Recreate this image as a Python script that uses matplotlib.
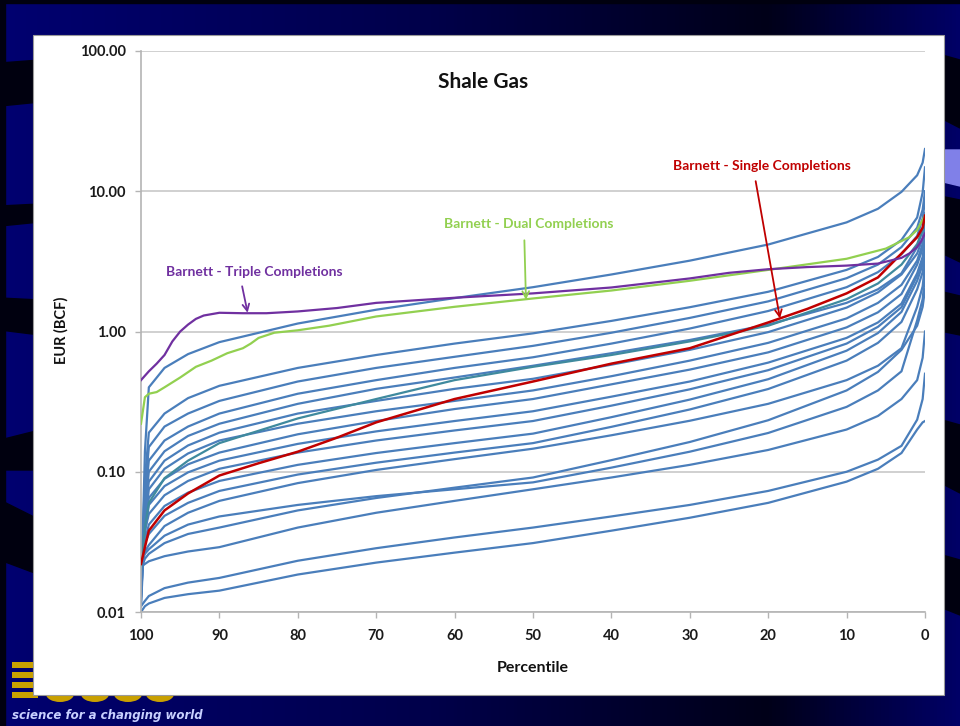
import numpy as np
import matplotlib
matplotlib.use("Agg")
import matplotlib.pyplot as plt
from matplotlib.patches import Rectangle, Polygon, Ellipse
from matplotlib.colors import LinearSegmentedColormap
from matplotlib.ticker import FixedLocator, FuncFormatter, NullLocator

# percentile positions shared by the blue curves
percentile = [100, 99.5, 99, 97, 94, 90, 80, 70, 60, 50, 40, 30, 20, 10, 6, 3, 1, 0.3, 0]

# blue curves, EUR in BCF at each percentile
eur_b01 = [0.012, 0.14, 0.40, 0.55, 0.69, 0.84, 1.14, 1.43, 1.73, 2.07, 2.55, 3.2, 4.17, 6.0, 7.5, 9.9, 13, 16, 20]
eur_b02 = [0.015, 0.089, 0.19, 0.26, 0.335, 0.41, 0.55, 0.68, 0.82, 0.97, 1.19, 1.49, 1.92, 2.75, 3.4, 4.5, 6.5, 9.8, 14.8]
eur_b03 = [0.013, 0.072, 0.15, 0.21, 0.26, 0.32, 0.44, 0.55, 0.66, 0.79, 0.98, 1.25, 1.64, 2.4, 3.0, 4.0, 5.5, 7.4, 10]
eur_b04 = [0.014, 0.063, 0.12, 0.167, 0.21, 0.26, 0.36, 0.45, 0.55, 0.655, 0.82, 1.05, 1.40, 2.07, 2.65, 3.55, 4.8, 6.4, 8.6]
eur_b05 = [0.012, 0.053, 0.10, 0.14, 0.18, 0.22, 0.305, 0.39, 0.47, 0.57, 0.70, 0.87, 1.12, 1.6, 2.0, 2.6, 4.0, 5.3, 7.0]
eur_b06 = [0.016, 0.051, 0.085, 0.12, 0.154, 0.19, 0.26, 0.32, 0.39, 0.46, 0.58, 0.74, 0.99, 1.48, 1.9, 2.55, 3.6, 4.6, 6.0]
eur_b07 = [0.011, 0.042, 0.075, 0.105, 0.135, 0.167, 0.22, 0.27, 0.32, 0.38, 0.48, 0.62, 0.83, 1.24, 1.6, 2.15, 3.2, 4.2, 5.5]
eur_b08 = [0.018, 0.044, 0.065, 0.089, 0.113, 0.137, 0.185, 0.23, 0.28, 0.33, 0.42, 0.535, 0.71, 1.07, 1.37, 1.85, 3.0, 3.9, 5.0]
eur_b09 = [0.013, 0.037, 0.058, 0.079, 0.099, 0.12, 0.158, 0.194, 0.23, 0.27, 0.343, 0.44, 0.60, 0.90, 1.16, 1.58, 2.6, 3.4, 4.5]
eur_b10 = [0.020, 0.038, 0.05, 0.068, 0.086, 0.105, 0.137, 0.167, 0.197, 0.23, 0.296, 0.387, 0.53, 0.82, 1.08, 1.49, 2.5, 3.2, 4.2]
eur_b11 = [0.017, 0.032, 0.042, 0.057, 0.071, 0.086, 0.112, 0.136, 0.16, 0.187, 0.245, 0.327, 0.457, 0.73, 0.975, 1.38, 2.3, 3.0, 4.0]
eur_b12 = [0.022, 0.031, 0.036, 0.0485, 0.06, 0.073, 0.0955, 0.116, 0.137, 0.16, 0.209, 0.278, 0.389, 0.62, 0.83, 1.17, 2.0, 2.65, 3.5]
eur_b13 = [0.021, 0.027, 0.03, 0.041, 0.051, 0.062, 0.083, 0.103, 0.123, 0.146, 0.182, 0.231, 0.305, 0.45, 0.57, 0.76, 1.5, 2.1, 3.0]
eur_b14 = [0.020, 0.024, 0.026, 0.031, 0.036, 0.040, 0.053, 0.065, 0.077, 0.091, 0.121, 0.163, 0.233, 0.38, 0.515, 0.74, 1.1, 1.5, 2.0]
eur_b15 = [0.022, 0.026, 0.028, 0.035, 0.042, 0.048, 0.058, 0.067, 0.075, 0.084, 0.107, 0.139, 0.189, 0.29, 0.38, 0.52, 1.2, 1.7, 2.5]
eur_b16 = [0.021, 0.022, 0.023, 0.025, 0.027, 0.029, 0.040, 0.051, 0.062, 0.075, 0.091, 0.112, 0.143, 0.20, 0.25, 0.33, 0.45, 0.65, 1.0]
eur_b17 = [0.011, 0.012, 0.013, 0.0148, 0.0162, 0.0175, 0.0232, 0.0285, 0.034, 0.040, 0.048, 0.058, 0.073, 0.10, 0.122, 0.153, 0.235, 0.33, 0.5]
eur_b18 = [0.010, 0.011, 0.0115, 0.0126, 0.0134, 0.0142, 0.0185, 0.0225, 0.0265, 0.031, 0.038, 0.047, 0.060, 0.085, 0.105, 0.136, 0.20, 0.225, 0.23]
eur_teal = [0.020, 0.04, 0.06, 0.09, 0.12, 0.16, 0.24, 0.33, 0.45, 0.56, 0.68, 0.85, 1.1, 1.7, 2.2, 3.0, 4.2, 5.3, 6.5]

blue_series = [eur_b01, eur_b02, eur_b03, eur_b04, eur_b05, eur_b06, eur_b07, eur_b08, eur_b09,
               eur_b10, eur_b11, eur_b12, eur_b13, eur_b14, eur_b15, eur_b16, eur_b17, eur_b18]

# Barnett - Single Completions
pct_single = [100, 99.5, 99, 97, 94, 90, 85, 80, 75, 70, 60, 50, 40, 30, 24, 20, 15, 10, 6, 3, 1, 0.3, 0]
eur_single = [0.022, 0.029, 0.038, 0.053, 0.07, 0.094, 0.115, 0.139, 0.175, 0.225, 0.33, 0.44, 0.59,
              0.76, 0.98, 1.16, 1.45, 1.87, 2.43, 3.6, 4.7, 5.5, 6.7]
# Barnett - Dual Completions
pct_dual = [100, 99.5, 99, 98, 97, 95, 93, 91, 89, 87, 86, 85, 83, 80, 76, 70, 60, 50, 40, 30, 20,
            10, 5, 2, 1, 0]
eur_dual = [0.22, 0.34, 0.36, 0.37, 0.40, 0.47, 0.56, 0.62, 0.70, 0.76, 0.82, 0.90, 0.98, 1.02, 1.1,
            1.28, 1.5, 1.72, 1.96, 2.3, 2.75, 3.3, 3.9, 4.7, 5.3, 6.7]
# Barnett - Triple Completions
pct_triple = [100, 99, 98, 97, 96, 95, 94, 93, 92, 90, 87, 84, 80, 75, 70, 60, 50, 40, 30, 25, 20,
              15, 10, 6, 3, 2, 1, 0.5, 0]
eur_triple = [0.45, 0.52, 0.59, 0.68, 0.85, 1.0, 1.12, 1.23, 1.30, 1.36, 1.35, 1.35, 1.39, 1.47, 1.60,
              1.74, 1.87, 2.06, 2.39, 2.62, 2.78, 2.88, 2.95, 3.05, 3.35, 3.6, 4.0, 4.4, 5.0]

y_ticks = [0.01, 0.1, 1, 10, 100]
x_ticks = [100, 90, 80, 70, 60, 50, 40, 30, 20, 10, 0]

BLUE = "#4a7ebb"
RED = "#c00000"
GREEN = "#92d050"
PURPLE = "#7030a0"
FONT = "Lato"

fig = plt.figure(figsize=(9.6, 7.26), dpi=100)

# slide background drawn in pixel coordinates
bg = fig.add_axes([0, 0, 1, 1], zorder=-1)
bg.set_xlim(0, 960)
bg.set_ylim(726, 0)
bg.axis("off")
cmap = LinearSegmentedColormap.from_list(
    "slide", [(0.0, "#000070"), (0.45, "#00004a"), (0.8, "#000018"), (1.0, "#000066")])
bg.imshow(np.linspace(0, 1, 256)[None, :], cmap=cmap, aspect="auto",
          extent=(0, 960, 726, 0), zorder=0)
# dark swooshes at the edges
for pts in [[(0, 63), (40, 60), (40, 102), (0, 106)],
            [(0, 206), (40, 204), (40, 222), (0, 226)],
            [(0, 298), (40, 300), (40, 335), (0, 330)],
            [(0, 440), (40, 430), (40, 470), (0, 470)],
            [(0, 500), (40, 520), (40, 575), (0, 560)],
            [(935, 53), (960, 60), (960, 128), (935, 115)],
            [(935, 195), (960, 200), (960, 262), (935, 250)],
            [(935, 290), (960, 296), (960, 335), (935, 330)],
            [(935, 418), (960, 425), (960, 493), (935, 480)],
            [(935, 553), (960, 560), (960, 615), (935, 605)],
            [(0, 0), (960, 0), (960, 3), (0, 3)],
            [(0, 0), (5, 0), (5, 726), (0, 726)]]:
    bg.add_patch(Polygon(pts, closed=True, color="#00000f", zorder=1))
bg.add_patch(Polygon([(935, 150), (960, 150), (960, 186), (935, 180)], closed=True,
                     color="#8080e8", zorder=1))
# USGS logo peeking out below the panel (gold wave stripes and letter bottoms)
for yy in [662, 672, 682, 692]:
    bg.add_patch(Rectangle((12, yy), 26, 6, facecolor="#c9a000", edgecolor="none", zorder=2))
for cx in [60, 95, 128, 160]:
    bg.add_patch(Ellipse((cx, 694), 28, 16, facecolor="#c9a000", edgecolor="none", zorder=2))
bg.text(12, 716, "science for a changing world", fontsize=8.5, fontstyle="italic",
        fontweight="bold", color="#c8d0ff", family="DejaVu Sans", va="center", zorder=4)
# white chart panel
bg.add_patch(Rectangle((33, 35), 911, 660, facecolor="white", edgecolor="#9a9a9a",
                       lw=0.8, zorder=3))

ax = fig.add_axes([141 / 960, 1 - 612 / 726, 784 / 960, 561 / 726])
ax.set_facecolor("white")

for series in blue_series:
    ax.plot(percentile, series, color=BLUE, lw=1.6, zorder=2)
ax.plot(percentile, eur_teal, color="#3f8a9e", lw=1.6, zorder=2)
ax.plot(pct_single, eur_single, color=RED, lw=1.8, zorder=4)
ax.plot(pct_dual, eur_dual, color=GREEN, lw=1.6, zorder=3)
ax.plot(pct_triple, eur_triple, color=PURPLE, lw=1.6, zorder=5)

ax.set_yscale("log")
ax.set_ylim(0.01, 100)
ax.set_xlim(100, 0)
ax.yaxis.set_major_locator(FixedLocator(y_ticks))
ax.yaxis.set_minor_locator(NullLocator())
ax.yaxis.set_major_formatter(FuncFormatter(lambda v, pos: "%.2f" % v))
ax.xaxis.set_major_locator(FixedLocator(x_ticks))
ax.xaxis.set_major_formatter(FuncFormatter(lambda v, pos: "%d" % round(v)))
ax.grid(axis="y", color="#c8c8c8", lw=1.2, zorder=0)
ax.set_axisbelow(True)

for side in ["top", "right"]:
    ax.spines[side].set_visible(False)
for side in ["left", "bottom"]:
    ax.spines[side].set_color("#b4b4b4")
    ax.spines[side].set_linewidth(1.2)
ax.tick_params(axis="both", direction="out", length=4, width=1, color="#b4b4b4")
ax.tick_params(axis="y", pad=7)
ax.tick_params(axis="x", pad=8)
for lab in ax.get_xticklabels() + ax.get_yticklabels():
    lab.set_fontfamily(FONT)
    lab.set_fontweight("bold")
    lab.set_fontsize(10.5)
    lab.set_color("#1a1a1a")

ax.text(0.436, 0.945, "Shale Gas", transform=ax.transAxes, ha="center", va="center",
        fontsize=15, fontweight="bold", family=FONT, color="#111111")
ax.text(-0.101, 0.503, "EUR (BCF)", transform=ax.transAxes, rotation=90, ha="center",
        va="center", fontsize=10.5, fontweight="bold", family=FONT, color="#111111")
ax.text(0.5, -0.1, "Percentile", transform=ax.transAxes, ha="center", va="center",
        fontsize=11.5, fontweight="bold", family=FONT, color="#111111")

notes = [
    ("Barnett - Triple Completions", PURPLE, (85.6, 2.64), (87.1, 2.10), (86.4, 1.36)),
    ("Barnett - Dual Completions", GREEN, (50.5, 5.8), (51.1, 4.47), (50.9, 1.68)),
    ("Barnett - Single Completions", RED, (20.8, 15.1), (21.6, 11.8), (18.5, 1.24)),
]
for label, col, txt_xy, start, end in notes:
    ax.text(*txt_xy, label, color=col, ha="center", va="center", fontsize=10,
            fontweight="bold", family=FONT, zorder=6)
    ax.annotate("", xy=end, xytext=start,
                arrowprops=dict(arrowstyle="->", color=col, lw=1.3,
                                shrinkA=0, shrinkB=0, mutation_scale=12), zorder=6)

fig.savefig("out.png", dpi=100)
